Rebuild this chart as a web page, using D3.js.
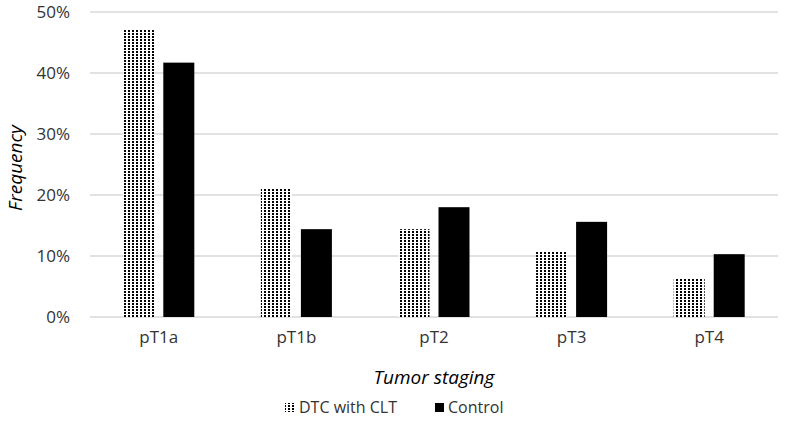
<!DOCTYPE html>
<html><head><meta charset="utf-8">
<script src="https://cdn.jsdelivr.net/npm/d3@7"></script>
<style>body{margin:0;background:#fff;} text{font-family:"Open Sans","Noto Sans",sans-serif;}</style>
</head><body>
<svg id="c" width="786" height="435"></svg>
<script>
const categories = ["pT1a","pT1b","pT2","pT3","pT4"];
const seriesNames = ["DTC with CLT","Control"];
const dtcValues = [47.2, 21.1, 14.4, 10.8, 6.3];
const controlValues = [41.7, 14.4, 18.0, 15.6, 10.3];
const yTicks = [0,10,20,30,40,50];

(function(){
const svg = d3.select("#c");
const defs = svg.append("defs");
const pat = defs.append("pattern").attr("id","dots").attr("patternUnits","userSpaceOnUse")
  .attr("width",4).attr("height",3);
pat.append("rect").attr("width",4).attr("height",3).attr("fill","#fff");
pat.append("rect").attr("x",0).attr("y",0).attr("width",2).attr("height",2).attr("fill","#000");

const mLeft = 90, mRight = 778, mTop = 12, mBottom = 317;
const x = d3.scaleBand().domain(categories).range([mLeft,mRight]);
const y = d3.scaleLinear().domain([0,50]).range([mBottom,mTop]);

// gridlines
svg.append("g").selectAll("line").data(yTicks).join("line")
  .attr("x1",mLeft).attr("x2",mRight)
  .attr("y1",d=>y(d)).attr("y2",d=>y(d))
  .attr("stroke","#d9d9d9").attr("stroke-width",1.5);

// y axis labels
const yAxis = d3.axisLeft(y).tickValues(yTicks).tickFormat(d=>d+"%").tickSize(0).tickPadding(20);
const ya = svg.append("g").attr("transform",`translate(${mLeft},0)`).call(yAxis);
ya.select(".domain").remove();
ya.selectAll("text").attr("font-size",17).attr("fill","#333")
  .style("font-family","'Open Sans',sans-serif");

// x axis labels
const xAxis = d3.axisBottom(x).tickSize(0).tickPadding(14);
const xa = svg.append("g").attr("transform",`translate(0,${mBottom})`).call(xAxis);
xa.select(".domain").remove();
xa.selectAll("text").attr("font-size",17).attr("fill","#333")
  .style("font-family","'Open Sans',sans-serif");

const bw = 31, gap = 9;
const data = categories.map((c,i)=>({c, v:[dtcValues[i], controlValues[i]]}));
const g = svg.append("g");
data.forEach(d=>{
  const cx = x(d.c) + x.bandwidth()/2;
  g.append("rect").attr("x",cx - gap/2 - bw).attr("width",bw)
    .attr("y",y(d.v[0])).attr("height",y(0)-y(d.v[0])).attr("fill","url(#dots)");
  g.append("rect").attr("x",cx + gap/2).attr("width",bw)
    .attr("y",y(d.v[1])).attr("height",y(0)-y(d.v[1])).attr("fill","#000");
});

// axis titles
svg.append("text").attr("transform","translate(22,168) rotate(-90)")
  .attr("text-anchor","middle").attr("font-size",19).attr("font-style","italic").attr("fill","#000")
  .text("Frequency");
svg.append("text").attr("x",(mLeft+mRight)/2).attr("y",384)
  .attr("text-anchor","middle").attr("font-size",19).attr("font-style","italic").attr("fill","#000")
  .text("Tumor staging");

// legend
const leg = svg.append("g");
leg.append("rect").attr("x",285).attr("y",403).attr("width",9).attr("height",9).attr("fill","url(#dots)");
leg.append("text").attr("x",299).attr("y",413).attr("font-size",16).attr("fill","#333").text(seriesNames[0]);
leg.append("rect").attr("x",435).attr("y",403).attr("width",9).attr("height",9).attr("fill","#000");
leg.append("text").attr("x",448).attr("y",413).attr("font-size",16).attr("fill","#333").text(seriesNames[1]);
})();
</script>
</body></html>
